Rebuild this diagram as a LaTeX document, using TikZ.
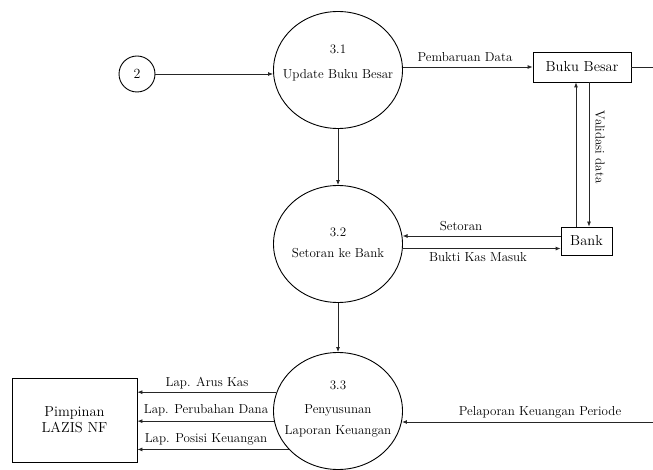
\documentclass[tikz,border=0pt]{standalone}
\usetikzlibrary{arrows.meta,shapes.geometric,calc}
\tikzset{
  proc/.style={draw, ellipse, minimum width=129pt, minimum height=117pt, inner sep=0pt, line width=0.9pt},
  ent/.style={draw, rectangle, inner sep=0pt, line width=0.8pt, font=\fontsize{14.5}{17}\selectfont, align=center},
  lbl/.style={font=\fontsize{13}{15}\selectfont, inner sep=0pt},
  arr/.style={-{Latex[length=5pt,width=4pt]}, line width=0.8pt, draw=black!85},
  ln/.style={line width=0.8pt, draw=black!85}
}
\begin{document}
\begin{tikzpicture}[x=1pt,y=-1pt]
\useasboundingbox (0,0) rectangle (653,470);
% processes
\node[proc] (c31) at (338,70) {};
\node[proc] (c32) at (338,244) {};
\node[proc] (c33) at (338,411) {};
\node[draw, circle, minimum size=36pt, inner sep=0pt, line width=0.9pt, font=\fontsize{14}{16}\selectfont] (n2) at (137,74) {2};
\node[lbl] (t31a) at (338,49) {3.1};
\node[lbl] (t31b) at (338,75) {Update Buku Besar};
\node[lbl] (t32a) at (338,232) {3.2};
\node[lbl] (t32b) at (338,253) {Setoran ke Bank};
\node[lbl] (t33a) at (338,385) {3.3};
\node[lbl] (t33b) at (338,410) {Penyusunan};
\node[lbl] (t33c) at (338,431) {Laporan Keuangan};
% entities
\node[ent, minimum width=98pt, minimum height=30pt] (bb) at (582,67) {Buku Besar};
\node[ent, minimum width=51pt, minimum height=28pt] (bank) at (586.5,241) {Bank};
\node[ent, minimum width=125pt, minimum height=84pt] (pim) at (74.5,420) {Pimpinan\\[-1pt]LAZIS NF};
\coordinate (bbout) at (653,67);
\coordinate (prin) at (653,422);
\coordinate (up1) at ($(bank.north)+(-10.5,0)$);
\coordinate (up2) at (up1 |- bb.south);
\coordinate (dn1) at ($(bb.south)+(7,0)$);
\coordinate (dn2) at (dn1 |- bank.north);
\coordinate (st1) at ($(bank.west)+(0,-5)$);
% connectors
\draw[arr] (n2.east) -- (n2.east -| c31.west);
\draw[arr] (c31.east |- bb.west) -- (bb.west);
\draw[ln] (bb.east) -- (bbout);
\draw[arr] (up1) -- (up2);
\draw[arr] (dn1) -- (dn2);
\draw[arr] (st1) -- (c32.6.3 |- st1);
\draw[arr] (c32.-4.5) -- (c32.-4.5 -| bank.west);
\draw[arr] (c31.south) -- (c32.north);
\draw[arr] (c32.south) -- (c33.north);
\draw[arr] (c33.163.5) -- (c33.163.5 -| pim.east);
\draw[arr] (c33.189) -- (c33.189 -| pim.east);
\draw[arr] (c33.218) -- (c33.218 -| pim.east);
\draw[arr] (prin) -- (c33.-9.9 |- prin);
% labels
\node[lbl] (l1) at (465,57) {Pembaruan Data};
\node[lbl, rotate=-90] (l2) at (600,147) {Validasi data};
\node[lbl] (l3) at (461,226) {Setoran};
\node[lbl] (l4) at (478,257) {Bukti Kas Masuk};
\node[lbl] (l5) at (207,383) {Lap. Arus Kas};
\node[lbl] (l6) at (206,410) {Lap. Perubahan Dana};
\node[lbl] (l7) at (206,439) {Lap. Posisi Keuangan};
\node[lbl] (l8) at (540,412) {Pelaporan Keuangan Periode};
\end{tikzpicture}
\end{document}
